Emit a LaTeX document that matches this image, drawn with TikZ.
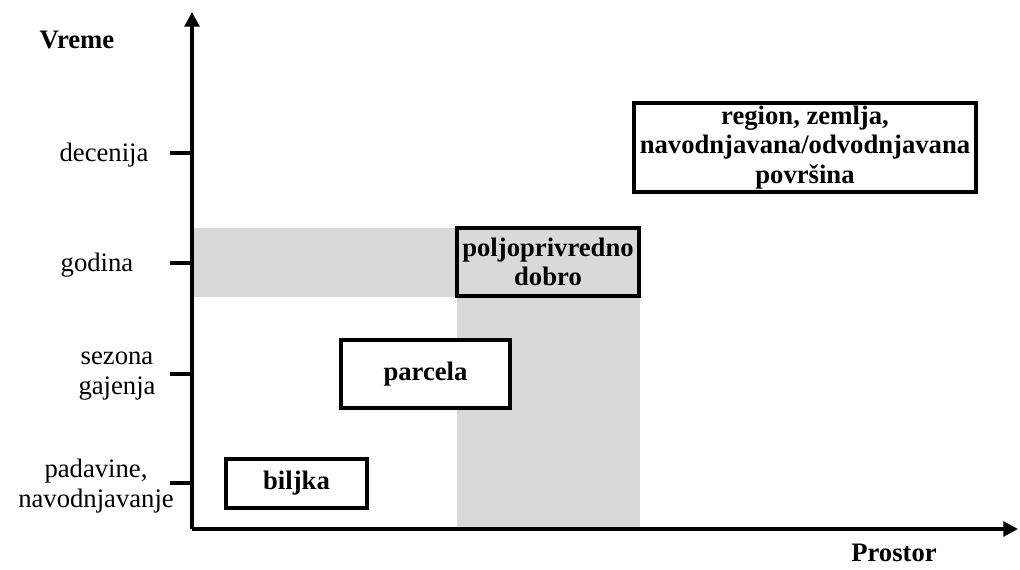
\documentclass[tikz,border=0pt]{standalone}
\usepackage{fontspec}
\setmainfont{Liberation Serif}
\usepackage{xcolor}
\usepackage{tikz}
\usetikzlibrary{arrows.meta, positioning}
\definecolor{bandgray}{RGB}{217,217,217}
\tikzset{
    axis/.style={-{Triangle[length=11pt, width=11pt]}, line width=3pt},
    tick/.style={line width=3pt},
    scalebox/.style={rectangle, draw, line width=3pt, inner sep=0pt, text centered, align=center, font=\fontsize{20}{22}\selectfont\bfseries},
    scalelabel/.style={align=center, inner sep=0pt, font=\fontsize{20}{22}\selectfont},
    axistitle/.style={inner sep=0pt, font=\fontsize{20}{22}\selectfont\bfseries},
    band/.style={fill=bandgray}
}
\begin{document}
\begin{tikzpicture}[x=0.75pt, y=-0.75pt]
    \useasboundingbox (0,0) rectangle (1020,569);

    % Shaded bands
    \fill[band] (192,228) rectangle (457,297);
    \fill[band] (457,297) rectangle (640,529);

    % Axes
    \coordinate (origin) at (192,529);
    \coordinate (ytop) at (192,12);
    \coordinate (xend) at (1018,529);
    \draw[axis] (origin) -- (ytop);
    \draw[axis] (origin) -- (xend);
    \node[axistitle] (vreme) at (77,40) {Vreme};
    \node[axistitle] (prostor) at (894,553) {Prostor};

    % Ticks
    \coordinate (t1) at (170,153); \coordinate (a1) at (192,153);
    \coordinate (t2) at (170,263); \coordinate (a2) at (192,263);
    \coordinate (t3) at (170,374); \coordinate (a3) at (192,374);
    \coordinate (t4) at (170,483); \coordinate (a4) at (192,483);
    \draw[tick] (t1) -- (a1);
    \draw[tick] (t2) -- (a2);
    \draw[tick] (t3) -- (a3);
    \draw[tick] (t4) -- (a4);

    % Time scales
    \node[scalelabel] (decenija) at (104,155) {decenija};
    \node[scalelabel] (godina) at (97,265) {godina};
    \node[scalelabel] (sezona) at (117,376) {sezona\\gajenja};
    \node[scalelabel] (padavine) at (96,486) {padavine,\\navodnjavanje};

    % Spatial scales
    \node[scalebox, fill=white, minimum width=105.75pt, minimum height=36.75pt] (biljka) at (296.5,483.5) {biljka};
    \node[scalebox, fill=white, minimum width=126.75pt, minimum height=51pt] (parcela) at (425.5,374) {parcela};
    \node[scalebox, fill=bandgray, minimum width=136.5pt, minimum height=51pt] (dobro) at (548,262) {poljoprivredno\\dobro};
    \node[scalebox, fill=white, minimum width=256.5pt, minimum height=66.75pt] (region) at (805,147.5) {region, zemlja,\\navodnjavana/odvodnjavana\\površina};
\end{tikzpicture}
\end{document}
